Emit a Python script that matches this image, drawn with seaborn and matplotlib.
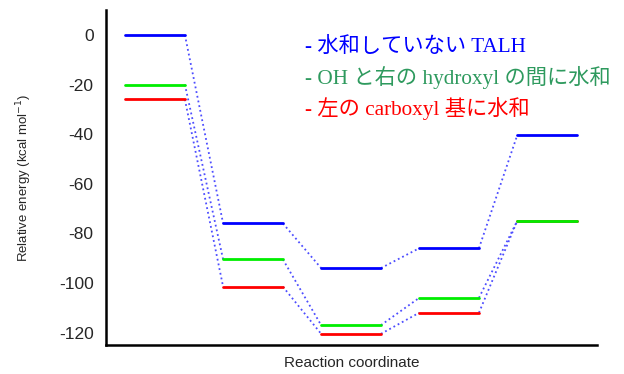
import numpy as np
import pandas as pd
import matplotlib
matplotlib.use("Agg")
import matplotlib.pyplot as plt
import seaborn as sns

# energy levels (kcal/mol) at each stage of the reaction coordinate
stages = [0, 1, 2, 3, 4]
blue_E = [0, -76, -94, -86, -40.5]
green_E = [-20, -90.5, -117, -106, -75]
red_E = [-26, -101.5, -120.5, -112, -75]

series_names = ["blue", "green", "red"]
legend_labels = ["- 水和していない TALH",
                 "- OH と右の hydroxyl の間に水和",
                 "- 左の carboxyl 基に水和"]

level_w = 0.61

sns.set_style("white")
plt.rcParams["font.family"] = ["Liberation Sans", "DejaVu Sans"]
plt.rcParams["axes.unicode_minus"] = False

# level segments
rows = []
conn = []
for name, vals in zip(series_names, [blue_E, green_E, red_E]):
    for i, (s, e) in enumerate(zip(stages, vals)):
        rows.append({"series": name, "seg": f"{name}{i}", "x": s, "E": e})
        rows.append({"series": name, "seg": f"{name}{i}", "x": s + level_w, "E": e})
        if i < len(stages) - 1:
            conn.append({"seg": f"{name}c{i}", "x": s + level_w, "E": e})
            conn.append({"seg": f"{name}c{i}", "x": stages[i + 1], "E": vals[i + 1]})
levels = pd.DataFrame(rows)
links = pd.DataFrame(conn)

fig = plt.figure(figsize=(6.24, 3.74), dpi=100)
ax = fig.add_axes([0.170, 0.0775, 0.787, 0.8955])

sns.lineplot(data=links, x="x", y="E", units="seg", estimator=None,
             color="#4d4dff", lw=1.3, linestyle=":", ax=ax, zorder=1)
sns.lineplot(data=levels, x="x", y="E", hue="series", units="seg", estimator=None,
             hue_order=["red", "green", "blue"],
             palette={"blue": "#0000ff", "green": "#00ee00", "red": "#ff0000"},
             lw=2, legend=False, ax=ax, zorder=2)

ax.set_xlim(-0.194, 4.816)
ax.set_ylim(-125, 10)
ax.set_yticks([0, -20, -40, -60, -80, -100, -120])
ax.set_xticks([])
ax.tick_params(axis="y", direction="in", length=5, width=1.5, labelsize=12.5, pad=9)
for side in ["top", "right"]:
    ax.spines[side].set_visible(False)
for side in ["left", "bottom"]:
    ax.spines[side].set_linewidth(1.8)
    ax.spines[side].set_color("black")

ax.set_ylabel("Relative energy (kcal mol$^{-1}$)", fontsize=9.5, labelpad=18)
ax.set_xlabel("Reaction coordinate", fontsize=11, labelpad=8)

text_colors = ["#0000ff", "#2e9a5e", "#ff0000"]
for k, (lab, c) in enumerate(zip(legend_labels, text_colors)):
    fig.text(305 / 624, 1 - (47 + 30.5 * k) / 374, lab, color=c, fontsize=15.3,
             va="center", ha="left", family=["Liberation Serif", "Noto Sans CJK JP"])

fig.savefig("out.png", dpi=100)
